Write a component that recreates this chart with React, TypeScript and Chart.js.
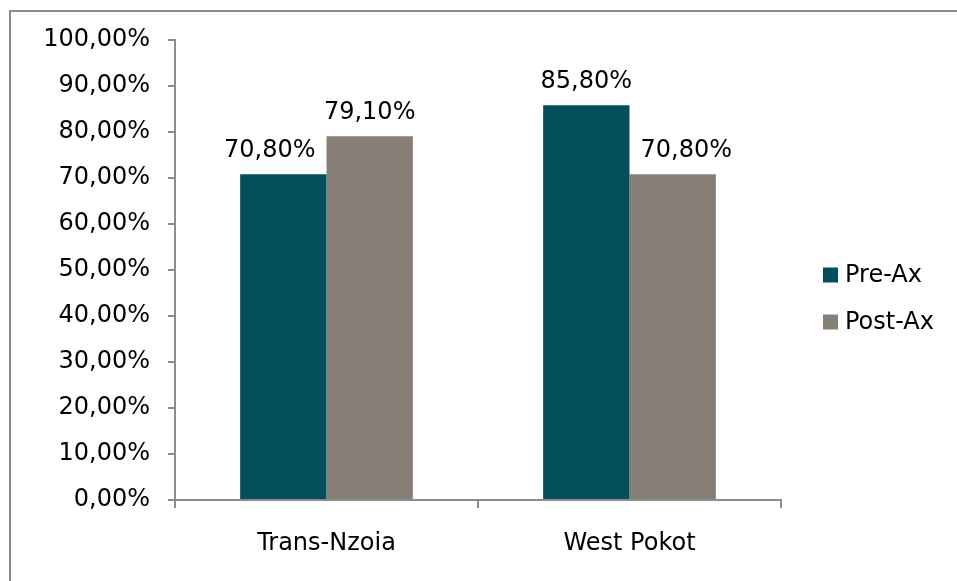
import React, { useEffect, useRef } from "react";
import { Chart, registerables } from "chart.js";

Chart.register(...registerables);

const categories = ["Trans-Nzoia", "West Pokot"];
const seriesNames = ["Pre-Ax", "Post-Ax"];
const preAx = [70.8, 85.8];
const postAx = [79.1, 70.8];
const seriesColors = ["#034F5C", "#877F76"];
const yMin = 0;
const yMax = 100;
const yStep = 10;

const FONT = "'DejaVu Sans', sans-serif";
const FONT_SIZE = 24;
const AXIS_COLOR = "#8C8C8C";

const fmt = (v: number) => v.toFixed(2).replace(".", ",") + "%";

const framePlugin = {
  id: "frame",
  beforeDraw(chart: any) {
    const ctx = chart.ctx;
    ctx.save();
    ctx.fillStyle = "#fff";
    ctx.fillRect(0, 0, chart.width, chart.height);
    ctx.strokeStyle = AXIS_COLOR;
    ctx.lineWidth = 2;
    ctx.beginPath();
    ctx.moveTo(10, chart.height + 5);
    ctx.lineTo(10, 11);
    ctx.lineTo(chart.width + 5, 11);
    ctx.stroke();
    ctx.restore();
  },
};

const labelsPlugin = {
  id: "barLabels",
  afterDatasetsDraw(chart: any) {
    const ctx = chart.ctx;
    ctx.save();
    ctx.font = `${FONT_SIZE}px ${FONT}`;
    ctx.fillStyle = "#000";
    ctx.textAlign = "center";
    ctx.textBaseline = "alphabetic";
    const metas = chart.data.datasets.map((_: any, i: number) => chart.getDatasetMeta(i));
    metas.forEach((meta: any, di: number) => {
      meta.data.forEach((bar: any, idx: number) => {
        const value = chart.data.datasets[di].data[idx];
        const text = fmt(value);
        const w = ctx.measureText(text).width;
        let cx = bar.x;
        const baseline = bar.y - 17;
        // avoid overlapping a taller neighbouring bar in the same category
        metas.forEach((other: any, oi: number) => {
          if (oi === di) return;
          const nb = other.data[idx];
          if (!nb || nb.y >= baseline) return;
          const nl = nb.x - nb.width / 2;
          const nr = nb.x + nb.width / 2;
          const gap = 11;
          if (nb.x > bar.x && cx + w / 2 > nl - gap) cx = nl - gap - w / 2;
          if (nb.x < bar.x && cx - w / 2 < nr + gap) cx = nr + gap + w / 2;
        });
        ctx.fillText(text, cx, baseline);
      });
    });
    ctx.restore();
  },
};

const legendPlugin = {
  id: "sideLegend",
  afterDraw(chart: any) {
    const ctx = chart.ctx;
    const area = chart.chartArea;
    ctx.save();
    ctx.font = `${FONT_SIZE}px ${FONT}`;
    ctx.textBaseline = "middle";
    ctx.textAlign = "left";
    const x0 = area.right + 42;
    const yStart = 275;
    const rowGap = 47;
    chart.data.datasets.forEach((ds: any, i: number) => {
      const cy = yStart + i * rowGap;
      ctx.fillStyle = ds.backgroundColor;
      ctx.fillRect(x0, cy - 7.5, 15, 15);
      ctx.fillStyle = "#000";
      ctx.fillText(ds.label, x0 + 22, cy + 1);
    });
    ctx.restore();
  },
};

export default function App() {
  const ref = useRef<HTMLCanvasElement | null>(null);

  useEffect(() => {
    if (!ref.current) return;
    const chart = new Chart(ref.current, {
      type: "bar",
      data: {
        labels: categories,
        datasets: [
          { label: seriesNames[0], data: preAx, backgroundColor: seriesColors[0] },
          { label: seriesNames[1], data: postAx, backgroundColor: seriesColors[1] },
        ],
      },
      options: {
        responsive: false,
        animation: false,
        devicePixelRatio: 1,
        layout: { padding: { left: 0, top: 40, right: 176, bottom: 0 } },
        datasets: {
          bar: { barPercentage: 1, categoryPercentage: 0.57, borderWidth: 0 },
        },
        plugins: {
          legend: { display: false },
          tooltip: { enabled: false },
        },
        scales: {
          x: {
            offset: true,
            grid: {
              offset: true,
              drawOnChartArea: false,
              drawTicks: true,
              tickLength: 8,
              color: AXIS_COLOR,
              lineWidth: 2,
            },
            border: { display: true, color: AXIS_COLOR, width: 2 },
            ticks: {
              color: "#000",
              font: { family: FONT, size: FONT_SIZE },
              padding: 21,
            },
            afterFit(scale: any) {
              scale.height = 81;
            },
          },
          y: {
            min: yMin,
            max: yMax,
            grid: {
              drawOnChartArea: false,
              drawTicks: true,
              tickLength: 7,
              color: AXIS_COLOR,
              lineWidth: 2,
            },
            border: { display: true, color: AXIS_COLOR, width: 2 },
            ticks: {
              stepSize: yStep,
              color: "#000",
              font: { family: FONT, size: FONT_SIZE },
              padding: 18,
              callback: (v: any) => fmt(Number(v)),
            },
            afterFit(scale: any) {
              scale.width = 175;
            },
          },
        },
      },
      plugins: [framePlugin, labelsPlugin, legendPlugin],
    });
    return () => chart.destroy();
  }, []);

  return (
    <canvas
      ref={ref}
      width={957}
      height={581}
      style={{ position: "fixed", left: 0, top: 0, width: 957, height: 581 }}
    />
  );
}
